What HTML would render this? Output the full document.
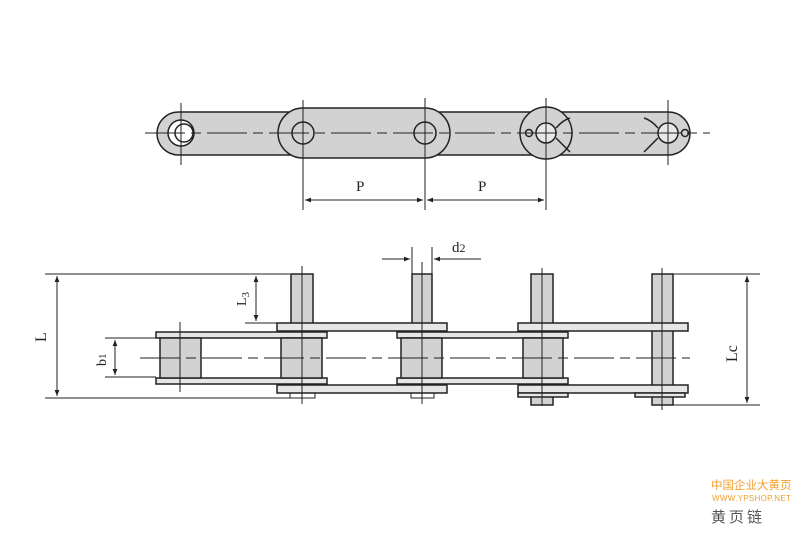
<!DOCTYPE html>
<html><head><meta charset="utf-8"><style>
html,body{margin:0;padding:0;background:#fff;width:800px;height:533px;overflow:hidden}
svg{display:block}
text{font-family:"Liberation Serif",serif;fill:#222}
</style></head><body>
<svg width="800" height="533" viewBox="0 0 800 533" xmlns="http://www.w3.org/2000/svg">
<defs>
<marker id="a" viewBox="0 0 10 10" refX="10" refY="5" markerWidth="8" markerHeight="6" orient="auto-start-reverse"><path d="M0,1 L10,5 L0,9 z" fill="#222"/></marker>
</defs>
<g stroke="#222" stroke-width="1.5" fill="#d2d2d2">
<!-- top view -->
<rect x="157" y="112" width="533" height="43" rx="21.5"/>
<path d="M303,108 L425,108 A25,25 0 0 1 425,158 L303,158 A25,25 0 0 1 303,108 Z"/>
<circle cx="546" cy="133" r="26"/>
<circle cx="181" cy="133" r="13" fill="#fff"/>
<circle cx="184" cy="133" r="9" fill="none"/>
<circle cx="303" cy="133" r="11"/>
<circle cx="425" cy="133" r="11"/>
<circle cx="546" cy="133" r="10" fill="#e8e8e8"/>
<circle cx="529" cy="133" r="3.5"/>
<circle cx="668" cy="133" r="10" fill="#e8e8e8"/>
<circle cx="685" cy="133" r="3.5"/>
<path d="M556,128 Q563,120 570,118 M556,138 Q563,145 570,152 M658,128 Q651,120 644,118 M658,138 Q651,145 644,152" fill="none"/>
</g>
<g stroke="#222" stroke-width="1" fill="none">
<path d="M145,133 H710" stroke-dasharray="40,6,10,6"/>
<path d="M181,103 V165 M303,100 V210 M425,98 V210 M546,98 V210 M668,100 V165"/>
<path d="M305,200 H423" marker-start="url(#a)" marker-end="url(#a)"/>
<path d="M427,200 H544" marker-start="url(#a)" marker-end="url(#a)"/>
</g>
<text x="356" y="191" font-size="15">P</text>
<text x="478" y="191" font-size="15">P</text>

<!-- side view -->
<g stroke="#222" stroke-width="1.5" fill="#d2d2d2">
<rect x="291" y="274" width="22" height="50"/>
<rect x="412" y="274" width="20" height="50"/>
<rect x="531" y="274" width="22" height="50"/>
<rect x="652" y="274" width="21" height="131"/>
<rect x="531" y="390" width="22" height="15"/>
<rect x="277" y="323" width="170" height="8" fill="#e6e6e6"/>
<rect x="518" y="323" width="170" height="8" fill="#e6e6e6"/>
<rect x="277" y="385" width="170" height="8" fill="#e6e6e6"/>
<rect x="518" y="385" width="170" height="8" fill="#e6e6e6"/>
<rect x="156" y="332" width="171" height="6" fill="#e6e6e6"/>
<rect x="397" y="332" width="171" height="6" fill="#e6e6e6"/>
<rect x="156" y="378" width="171" height="6" fill="#e6e6e6"/>
<rect x="397" y="378" width="171" height="6" fill="#e6e6e6"/>
<rect x="160" y="338" width="41" height="40"/>
<rect x="281" y="338" width="41" height="40"/>
<rect x="401" y="338" width="41" height="40"/>
<rect x="523" y="338" width="40" height="40"/>
<rect x="518" y="393" width="50" height="4" fill="#e6e6e6"/>
<rect x="635" y="393" width="50" height="4" fill="#e6e6e6"/>
</g>
<g stroke="#222" stroke-width="1" fill="none">
<path d="M290,393 v5 h25 v-5 M411,393 v5 h23 v-5"/>
<path d="M140,358 H690" stroke-dasharray="40,6,10,6"/>
<path d="M180,322 V392 M302,266 V404 M422,262 V404 M542,268 V406 M662,268 V410"/>
<path d="M45,274 H290 M45,398 H290"/>
<path d="M57,276 V396" marker-start="url(#a)" marker-end="url(#a)"/>
<path d="M245,323 H277"/>
<path d="M256,276 V321" marker-start="url(#a)" marker-end="url(#a)"/>
<path d="M105,338 H156 M105,377 H156"/>
<path d="M115,340 V375" marker-start="url(#a)" marker-end="url(#a)"/>
<path d="M412,247 V274 M432,247 V274"/>
<path d="M382,259 H410" marker-end="url(#a)"/>
<path d="M481,259 H434" marker-end="url(#a)"/>
<path d="M673,274 H760 M673,405 H760"/>
<path d="M747,276 V403" marker-start="url(#a)" marker-end="url(#a)"/>
</g>
<text x="452" y="252" font-size="15">d<tspan font-size="12">2</tspan></text>
<text transform="translate(46,342) rotate(-90)" font-size="16">L</text>
<text transform="translate(246,306) rotate(-90)" font-size="14">L<tspan font-size="11" dy="3">3</tspan></text>
<text transform="translate(106,366) rotate(-90)" font-size="14">b<tspan font-size="11">1</tspan></text>
<text transform="translate(737,362) rotate(-90)" font-size="16">Lc</text>

<text x="711" y="489" font-size="11.5" style="font-family:'Liberation Sans','Noto Sans CJK SC',sans-serif;fill:#f0a030">中国企业大黄页</text>
<text x="712" y="501" font-size="8" style="font-family:'Liberation Sans',sans-serif;fill:#f0a030;letter-spacing:0.3px">WWW.YPSHOP.NET</text>
<text x="711" y="522" font-size="15" style="font-family:'Liberation Sans','Noto Sans CJK SC',sans-serif;fill:#555;letter-spacing:3px">黄页链</text>
</svg>
</body></html>
